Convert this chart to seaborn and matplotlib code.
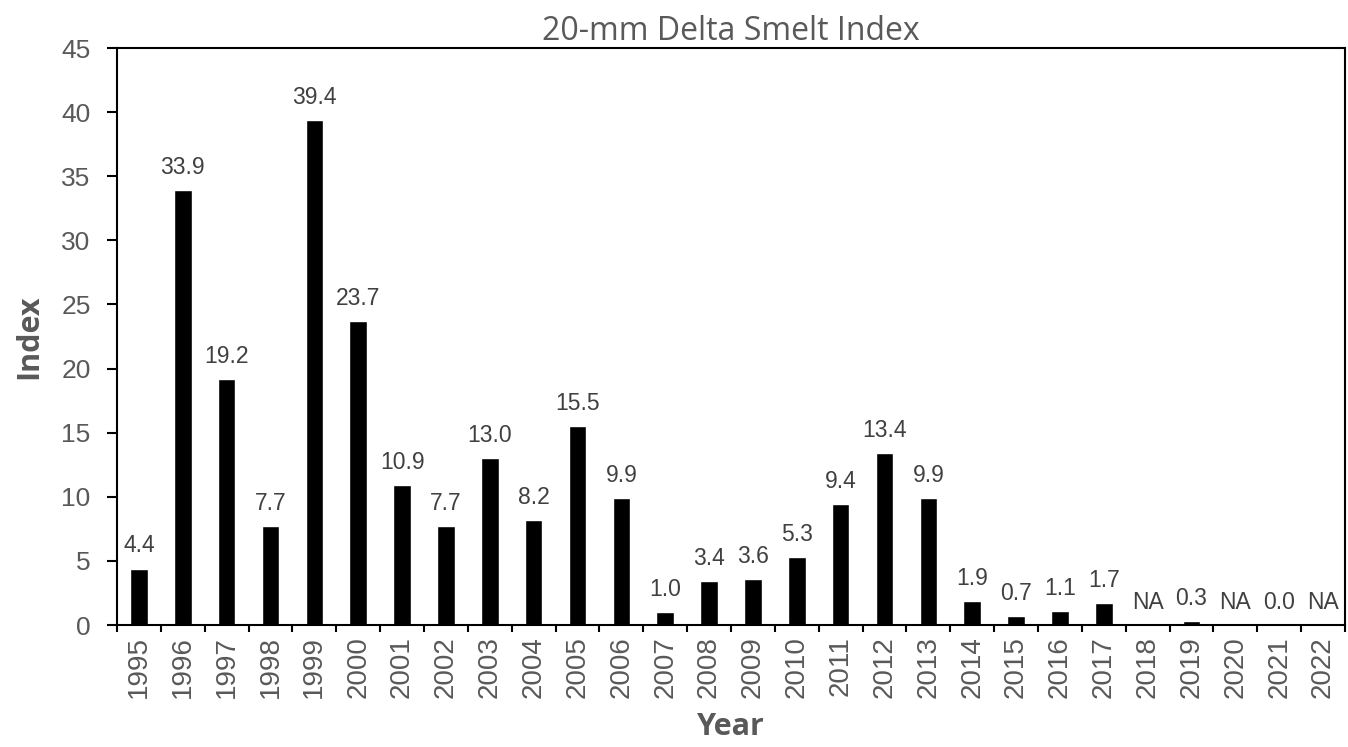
import numpy as np
import pandas as pd
import matplotlib
matplotlib.use('Agg')
import matplotlib.pyplot as plt
import seaborn as sns

years = [str(y) for y in range(1995, 2023)]
index_vals = [4.4, 33.9, 19.2, 7.7, 39.4, 23.7, 10.9, 7.7, 13.0, 8.2,
              15.5, 9.9, 1.0, 3.4, 3.6, 5.3, 9.4, 13.4, 9.9, 1.9,
              0.7, 1.1, 1.7, np.nan, 0.3, np.nan, 0.0, np.nan]
y_ticks = [0, 5, 10, 15, 20, 25, 30, 35, 40, 45]

df = pd.DataFrame({'year': years, 'index': index_vals})
df['plot_val'] = df['index'].fillna(0)
labels = ['NA' if np.isnan(v) else f'{v:.1f}' for v in df['index']]

sns.set_theme(style='white')
plt.rcParams['font.family'] = ['Liberation Sans', 'DejaVu Sans']
grey = '#595959'

fig = plt.figure(figsize=(13.48, 7.47), dpi=100)
ax = fig.add_axes([0.0868, 0.1633, 0.911, 0.7724])

sns.barplot(data=df, x='year', y='plot_val', color='black', width=0.4,
            saturation=1, ax=ax)
ax.bar_label(ax.containers[0], labels=labels, padding=8, fontsize=16.5, color='#404040')

ax.set_xlim(-0.5, len(years) - 0.5)
ax.set_ylim(0, 45)
ax.set_yticks(y_ticks)
ax.tick_params(axis='y', direction='out', length=7, width=1.5, color='black',
               labelsize=19, labelcolor=grey, left=True, pad=12)
ax.set_xticks(range(len(years)))
ax.set_xticklabels(years, rotation=90, fontsize=20, color=grey)
ax.tick_params(axis='x', which='major', length=0, pad=8)
ax.set_xticks(np.arange(-0.5, len(years), 1), minor=True)
ax.tick_params(axis='x', which='minor', direction='out', length=5, width=1.5,
               color='black', bottom=True)

for sp in ax.spines.values():
    sp.set_visible(True)
    sp.set_color('black')
    sp.set_linewidth(1.5)

ax.set_title('20-mm Delta Smelt Index', fontsize=23, color=grey, pad=6,
             family=['Open Sans', 'DejaVu Sans'])
ax.set_xlabel('Year', fontsize=22, fontweight='bold', color=grey, labelpad=10,
              family=['Open Sans', 'DejaVu Sans'])
ax.set_ylabel('Index', fontsize=22, fontweight='bold', color=grey, labelpad=12,
              family=['Open Sans', 'DejaVu Sans'])

fig.savefig('out.png', dpi=100)
